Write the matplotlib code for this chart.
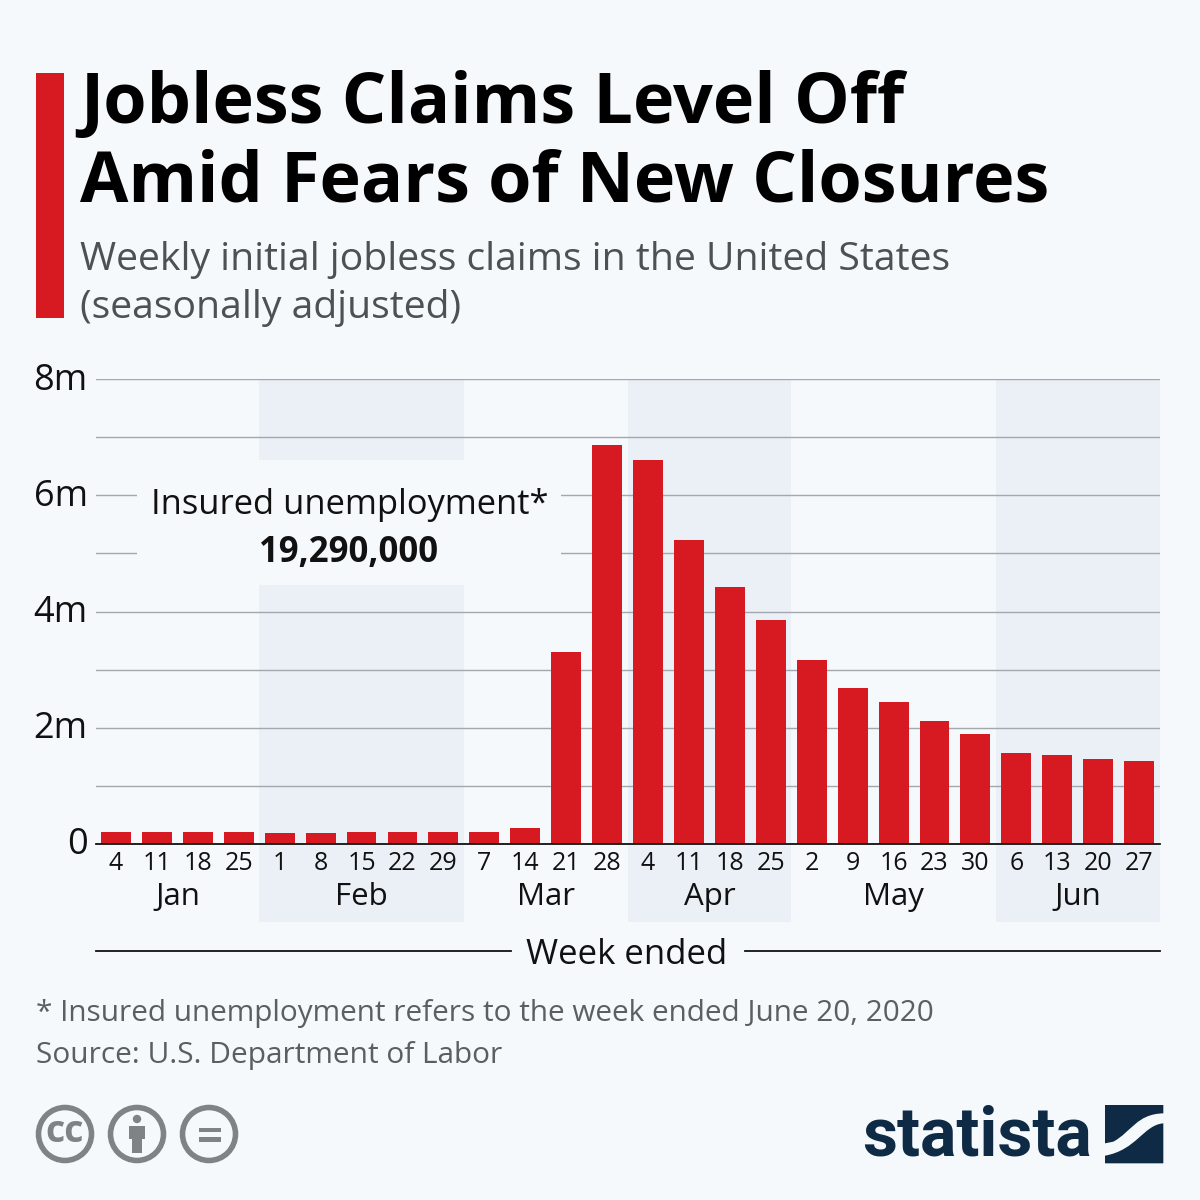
import matplotlib
matplotlib.use("Agg")
import matplotlib.pyplot as plt
from matplotlib.patches import Rectangle, Circle, PathPatch
from matplotlib.path import Path
from matplotlib.transforms import blended_transform_factory as btf, ScaledTranslation

days = [4,11,18,25,1,8,15,22,29,7,14,21,28,4,11,18,25,2,9,16,23,30,6,13,20,27]
claims = [0.205,0.20,0.215,0.205,0.195,0.195,0.21,0.215,0.21,0.205,0.28,3.31,6.86,6.60,5.235,4.43,
          3.86,3.165,2.68,2.44,2.115,1.89,1.56,1.53,1.47,1.42]
months = ["Jan","Feb","Mar","Apr","May","Jun"]
month_centers = [1.5,6,10.5,14.5,19,23.5]
shaded_months = [(3.5,8.5),(12.5,16.5),(21.5,25.5)]
y_ticks = [0,1,2,3,4,5,6,7,8]
y_labels = ["0","","2m","","4m","","6m","","8m"]

BG="#f5f9fc"; RED="#d71921"; BAND="#ebf0f7"; GRID="#a3a7ae"; SUB="#4c5156"; FOOT="#5a5f63"; NAVY="#0f2a44"; ICON="#7f8383"
plt.rcParams['font.family']=['Open Sans','DejaVu Sans']

fig=plt.figure(figsize=(12,12),dpi=100,facecolor=BG)
deco=fig.add_axes([0,0,1,1],zorder=5); deco.set_xlim(0,1200); deco.set_ylim(1200,0); deco.axis('off'); deco.patch.set_alpha(0)

L,R,T,B=96,1160,379,844
ax=fig.add_axes([L/1200,1-B/1200,(R-L)/1200,(B-T)/1200],facecolor='none',zorder=3)
ax.set_xlim(-0.489,25.51); ax.set_ylim(0,8)
for s in ['top','right','left']: ax.spines[s].set_visible(False)
ax.spines['bottom'].set_color('#111111'); ax.spines['bottom'].set_linewidth(1.3); ax.spines['bottom'].set_zorder(6)
tr=btf(ax.transData,ax.transAxes)
ymin=(844-922)/(844-379)
for a,b in shaded_months:
    ax.add_patch(Rectangle((a,ymin),b-a,1-ymin,transform=tr,color=BAND,lw=0,zorder=0,clip_on=False))
ax.set_yticks(y_ticks,y_labels,fontsize=26,color='#111111')
ax.set_xticks(range(len(days)),days,fontsize=18,color='#111111')
ax.tick_params(length=0); ax.tick_params(axis='x',pad=5); ax.tick_params(axis='y',pad=6)
for lab in ax.get_yticklabels():
    lab.set_transform(lab.get_transform()+ScaledTranslation(0,3/100,fig.dpi_scale_trans))
ax.grid(axis='y',color=GRID,lw=1,zorder=1); ax.set_axisbelow(True)
ax.add_patch(Rectangle((137,460),424,125,transform=deco.transData,color=BG,lw=0,zorder=2))
ax.bar(range(len(claims)),claims,width=0.73,color=RED,zorder=3)
for m,c in zip(months,month_centers):
    ax.text(c,(844-897)/465,m,transform=tr,ha='center',va='center',fontsize=22.5,color='#111111')

deco.add_patch(Rectangle((36,73),28,245,color=RED,lw=0))
deco.text(80,105,"Jobless Claims Level Off",fontsize=50.5,fontweight='bold',color='#000000',va='center')
deco.text(80,183,"Amid Fears of New Closures",fontsize=50.5,fontweight='bold',color='#000000',va='center')
deco.text(80,260,"Weekly initial jobless claims in the United States",fontsize=28.2,color=SUB,va='center')
deco.text(80,308,"(seasonally adjusted)",fontsize=28.2,color=SUB,va='center')
deco.text(349.5,505,"Insured unemployment*",fontsize=24.8,color='#111111',ha='center',va='center')
deco.text(349,553,"19,290,000",fontsize=25,fontweight='bold',color='#111111',ha='center',va='center')
deco.plot([96,511],[951,951],color='#111111',lw=1.3); deco.plot([745,1160],[951,951],color='#111111',lw=1.3)
deco.text(627,955,"Week ended",fontsize=25,color='#111111',ha='center',va='center')
deco.text(36,1014,"* Insured unemployment refers to the week ended June 20, 2020",fontsize=21.4,color=FOOT,va='center')
deco.text(36,1056,"Source: U.S. Department of Labor",fontsize=21.5,color=FOOT,va='center')

for cx in (65,137,209):
    deco.add_patch(Circle((cx,1134),26.5,fc='none',ec=ICON,lw=4))
deco.text(65,1132,"cc",fontsize=27,fontweight='bold',color=ICON,ha='center',va='center')
deco.add_patch(Circle((137,1119),4.2,color=ICON,lw=0))
deco.add_patch(Rectangle((129,1125.7),16,13.5,color=ICON,lw=0))
deco.add_patch(Rectangle((132,1139),10,14,color=ICON,lw=0))
deco.add_patch(Rectangle((199,1127.7),22,4.6,color=ICON,lw=0))
deco.add_patch(Rectangle((199,1137.3),22,4.6,color=ICON,lw=0))

deco.text(976.5,1137,"statista",fontsize=49,fontweight='bold',family=['Roboto'],color=NAVY,ha='center',va='center')
P=lambda x,y:(1105+(x-765)/3,1105+(y-45)/3)
C4=Path.CURVE4
verts=[P(765,45),P(940,45),P(940,70),P(860,72),P(845,125),P(790,155),P(765,160),P(765,45)]
codes=[Path.MOVETO,Path.LINETO,Path.LINETO,C4,C4,C4,Path.LINETO,Path.CLOSEPOLY]
deco.add_patch(PathPatch(Path(verts,codes),fc=NAVY,lw=0))
verts=[P(940,100),P(880,105),P(860,180),P(765,197),P(765,220),P(940,220),P(940,100)]
codes=[Path.MOVETO,C4,C4,C4,Path.LINETO,Path.LINETO,Path.CLOSEPOLY]
deco.add_patch(PathPatch(Path(verts,codes),fc=NAVY,lw=0))

fig.savefig("out.png",dpi=100,facecolor=BG)
